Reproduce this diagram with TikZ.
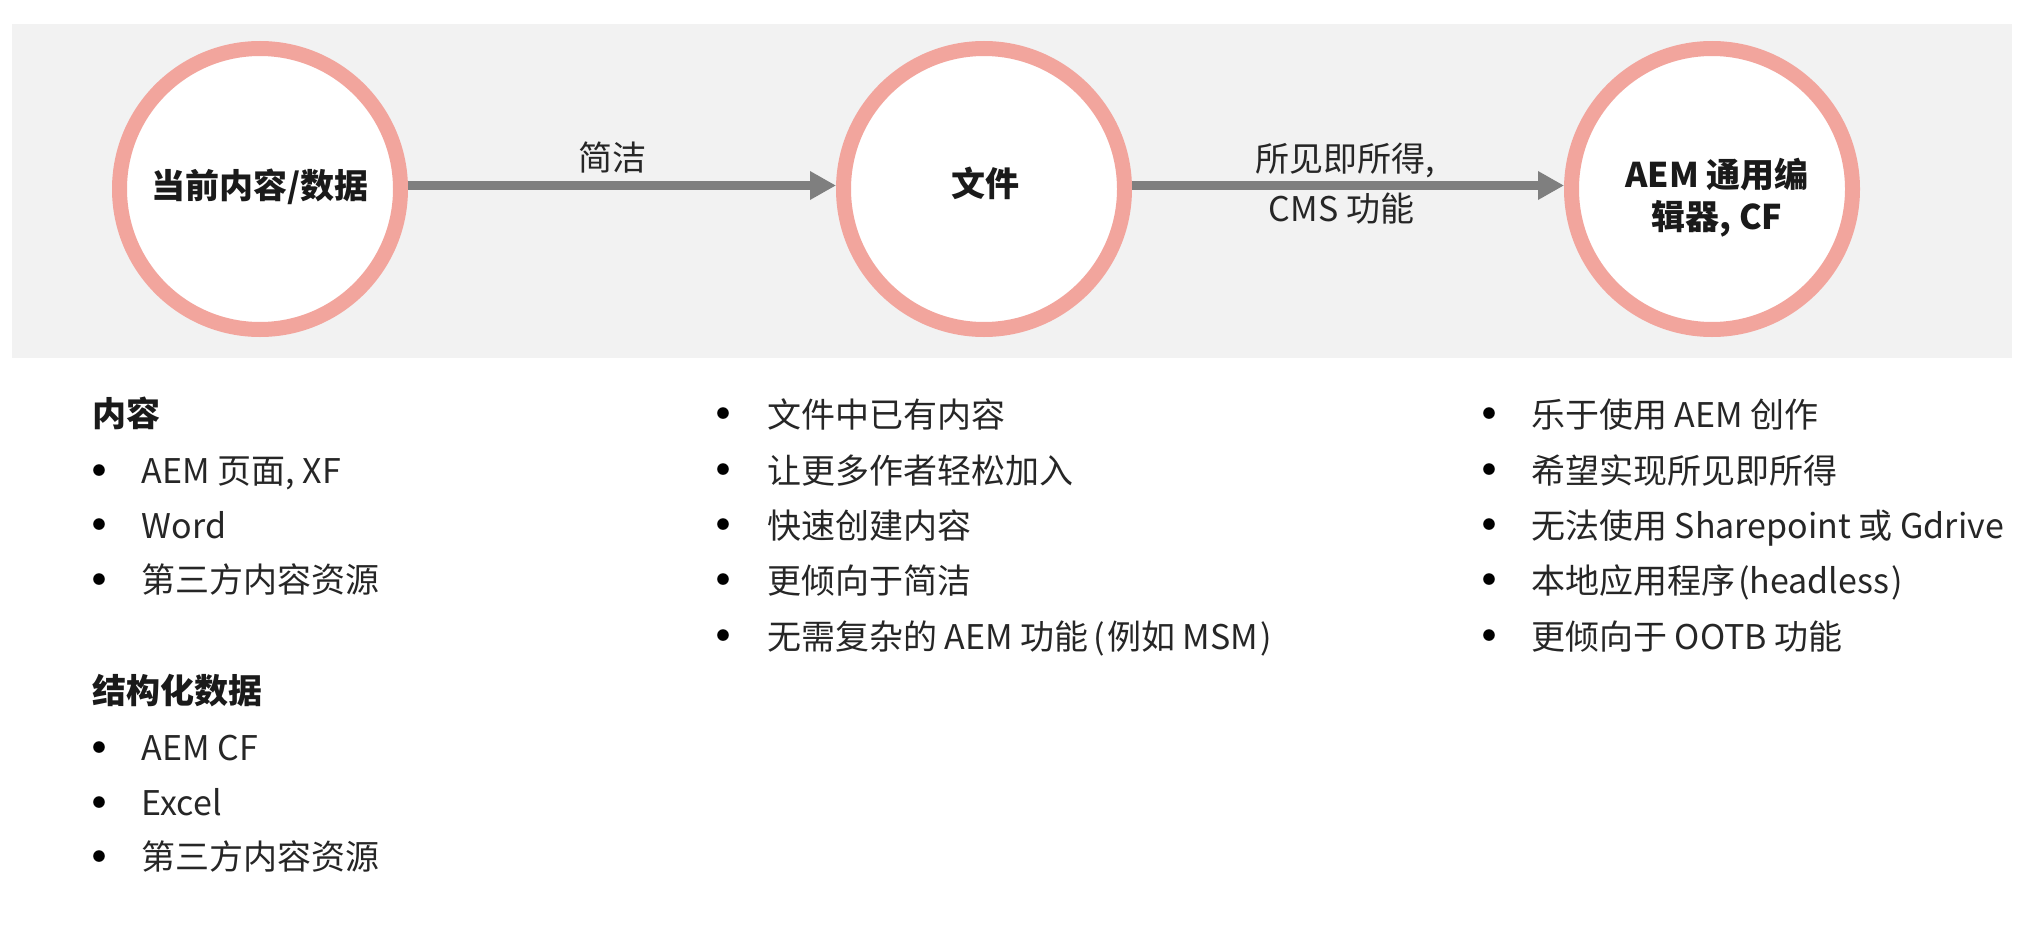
\documentclass[tikz,border=0pt]{standalone}
\usepackage{fontspec}
\setmainfont{Noto Sans CJK SC}
\usetikzlibrary{arrows.meta}
\definecolor{ringc}{HTML}{F2A59D}
\definecolor{bgc}{HTML}{F2F2F2}
\definecolor{arrowc}{HTML}{7F7F7F}
\definecolor{inkc}{HTML}{1A1A1A}
\definecolor{bodyc}{HTML}{262626}
\begin{document}
\begin{tikzpicture}[x=1pt,y=-1pt,
  ringnode/.style={circle, draw=ringc, line width=15pt, fill=white, minimum size=281pt, inner sep=0pt},
  titletext/.style={font=\fontsize{34}{42}\selectfont\bfseries, text=inkc, anchor=base, inner sep=0pt},
  flow/.style={draw=arrowc, line width=9pt, -{Triangle[length=26pt,width=27pt]}},
  flowlabel/.style={font=\fontsize{34}{42}\selectfont, text=bodyc, anchor=base, inner sep=0pt},
  headtext/.style={font=\fontsize{34}{42}\selectfont\bfseries, text=inkc, anchor=base west, inner sep=0pt},
  itemtext/.style={font=\fontsize{34}{42}\selectfont, text=bodyc, anchor=base west, inner sep=0pt},
  bulletmark/.style={font=\fontsize{13}{13}\selectfont, text=black, anchor=center, inner sep=0pt},
]
\useasboundingbox (0,0) rectangle (2022,926);
\fill[bgc] (12,24) rectangle (2012,358);

% circles
\node[ringnode] (c1) at (260,189) {};
\node[ringnode] (c2) at (984,189) {};
\node[ringnode] (c3) at (1712,189) {};

\node[titletext] (t1) at (260,198) {当前内容/数据};
\node[titletext] (t2) at (985,196) {文件};
\node[titletext] (t3a) at (1717,187) {AEM 通用编};
\node[titletext] (t3b) at (1717,229) {辑器, CF};

% arrows
\draw[flow] ([yshift=3.5pt]c1.east) -- ([yshift=3.5pt]c2.west);
\draw[flow] ([yshift=3.5pt]c2.east) -- ([yshift=3.5pt]c3.west);

\node[flowlabel] (l1) at (612,170) {简洁};
\node[flowlabel] (l2a) at (1345.5,171) {所见即所得,};
\node[flowlabel] (l2b) at (1341.5,221) {CMS 功能};

% left column
\node[headtext] (h1) at (92,426) {内容};
\node[bulletmark] (b11) at (99,471) {●};
\node[itemtext] (i11) at (141.5,483.5) {AEM 页面, XF};
\node[bulletmark] (b12) at (99,525) {●};
\node[itemtext] (i12) at (141.5,538) {Word};
\node[bulletmark] (b13) at (99,580) {●};
\node[itemtext] (i13) at (141.5,592.5) {第三方内容资源};

\node[headtext] (h2) at (92,703) {结构化数据};
\node[bulletmark] (b21) at (99,748) {●};
\node[itemtext] (i21) at (141.5,760) {AEM CF};
\node[bulletmark] (b22) at (99,803) {●};
\node[itemtext] (i22) at (141.5,815) {Excel};
\node[bulletmark] (b23) at (99,857) {●};
\node[itemtext] (i23) at (141.5,869.5) {第三方内容资源};

% middle column
\node[bulletmark] (m1b) at (723,414) {●};
\node[itemtext] (m1) at (767,427) {文件中已有内容};
\node[bulletmark] (m2b) at (723,470) {●};
\node[itemtext] (m2) at (767,483) {让更多作者轻松加入};
\node[bulletmark] (m3b) at (723,525) {●};
\node[itemtext] (m3) at (767,538) {快速创建内容};
\node[bulletmark] (m4b) at (723,580) {●};
\node[itemtext] (m4) at (767,593) {更倾向于简洁};
\node[bulletmark] (m5b) at (723,636) {●};
\node[itemtext] (m5) at (767,649) {无需复杂的 AEM 功能\kern5pt(\kern2pt例如 MSM\kern2pt)};

% right column
\node[bulletmark] (r1b) at (1489,414) {●};
\node[itemtext] (r1) at (1531,427) {乐于使用 AEM 创作};
\node[bulletmark] (r2b) at (1489,470) {●};
\node[itemtext] (r2) at (1531,483) {希望实现所见即所得};
\node[bulletmark] (r3b) at (1489,525) {●};
\node[itemtext] (r3) at (1531,538) {无法使用 Sharepoint 或 Gdrive};
\node[bulletmark] (r4b) at (1489,580) {●};
\node[itemtext] (r4) at (1531,593) {本地应用程序\kern3pt(headless\kern2pt)};
\node[bulletmark] (r5b) at (1489,636) {●};
\node[itemtext] (r5) at (1531,649) {更倾向于 OOTB 功能};
\end{tikzpicture}
\end{document}
